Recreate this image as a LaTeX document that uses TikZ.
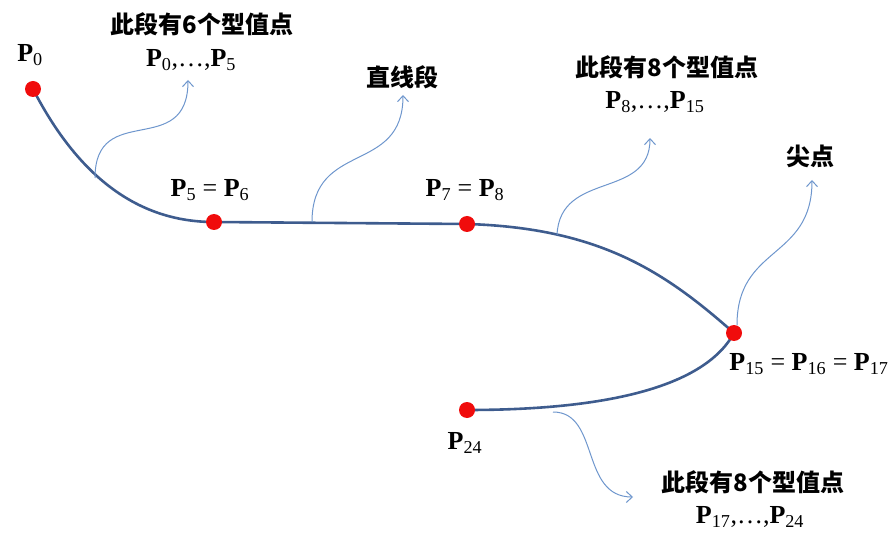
\documentclass[tikz,border=0pt]{standalone}
\usepackage{fontspec}
\setmainfont{Liberation Serif}
\newfontfamily\cjk{Noto Sans CJK SC}
\usetikzlibrary{arrows.meta}
\definecolor{curveblue}{RGB}{62,92,142}
\definecolor{noteblue}{RGB}{110,150,205}
\definecolor{dotred}{RGB}{240,12,12}
\newcommand{\Pt}[1]{\textbf{P}\textsubscript{#1}}
\tikzset{
  curve/.style={line width=2.6pt, curveblue},
  note/.style={line width=1pt, noteblue, -{Straight Barb[length=6pt,width=11pt]}},
  dot/.style={circle, fill=dotred, inner sep=0pt, minimum size=16pt},
  cn/.style={font=\cjk\bfseries\fontsize{24}{27}\selectfont},
  pl/.style={font=\fontsize{26}{29}\selectfont}
}
\begin{document}
\begin{tikzpicture}[x=1pt,y=-1pt]
                \useasboundingbox (0,0) rectangle (894,537);
                % control points
                \coordinate (p0) at (33,89);
                \coordinate (p5) at (214,222);
                \coordinate (p8) at (467,224);
                \coordinate (p15) at (734,333);
                \coordinate (p24) at (467,410);

                % the curve
                \draw[curve] (p0) .. controls (85,190) and (150,222) .. (p5) -- (p8)
                    .. controls (600,228) and (665,272) .. (p15)
                    .. controls (700,395) and (580,410) .. (p24);

                \node[dot] (d0) at (p0) {};
                \node[dot] (d5) at (p5) {};
                \node[dot] (d8) at (p8) {};
                \node[dot] (d15) at (p15) {};
                \node[dot] (d24) at (p24) {};

                % point labels
                \node[pl] (l0) at (30,55) {\Pt{0}};
                \node[pl] (l5) at (210,190) {\Pt{5} = \Pt{6}};
                \node[pl] (l8) at (465,190) {\Pt{7} = \Pt{8}};
                \node[pl] (l15) at (809,364) {\Pt{15} = \Pt{16} = \Pt{17}};
                \node[pl] (l24) at (465,443) {\Pt{24}};

                % notes
                \node[cn] (t1) at (202,24) {此段有6个型值点};
                \node[pl] (s1) at (191,60) {\Pt{0},\dots,\Pt{5}};
                \node[cn] (t2) at (402,77) {直线段};
                \node[cn] (t3) at (667,67) {此段有8个型值点};
                \node[pl] (s3) at (655,102) {\Pt{8},\dots,\Pt{15}};
                \node[cn] (t4) at (810,156) {尖点};
                \node[cn] (t5) at (753,482) {此段有8个型值点};
                \node[pl] (s5) at (750,517) {\Pt{17},\dots,\Pt{24}};

                % note arrows
                \coordinate (a1) at (95,178);   \coordinate (e1) at (188,80);
                \coordinate (a2) at (312,222);  \coordinate (e2) at (403,95);
                \coordinate (a3) at (557,235);  \coordinate (e3) at (650,138);
                \coordinate (a4) at (737,325);  \coordinate (e4) at (812,180);
                \coordinate (a5) at (553,412);  \coordinate (e5) at (633,497);
                \draw[note] (a1) .. controls (95,100) and (188,160) .. (e1);
                \draw[note] (a2) .. controls (312,140) and (403,175) .. (e2);
                \draw[note] (a3) .. controls (560,170) and (650,200) .. (e3);
                \draw[note] (a4) .. controls (737,245) and (812,260) .. (e4);
                \draw[note] (a5) .. controls (600,412) and (580,497) .. (e5);
            \end{tikzpicture}
\end{document}
